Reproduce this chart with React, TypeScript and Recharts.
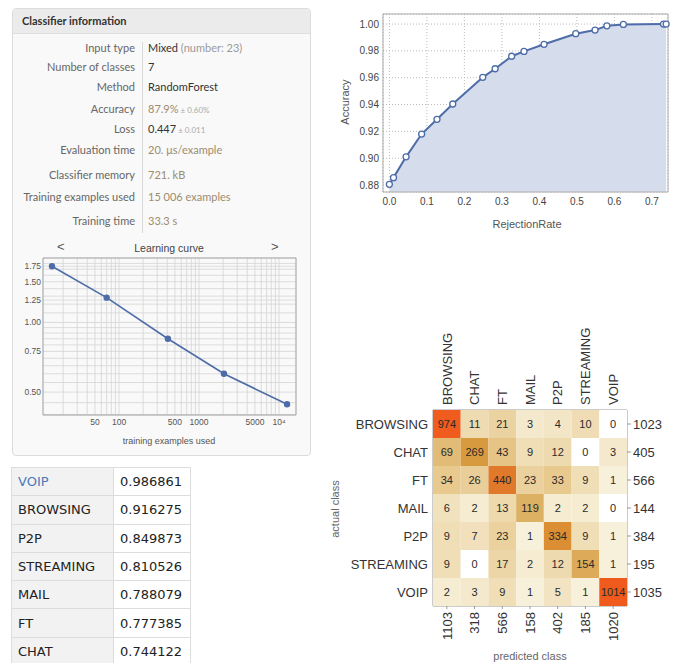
import React from "react"
import {
  AreaChart,
  Area,
  LineChart,
  Line,
  ScatterChart,
  Scatter,
  XAxis,
  YAxis,
  CartesianGrid,
  ReferenceArea
} from "recharts"

// accuracy vs rejection rate
const rejectionRates = [0, 0.011, 0.0445, 0.086, 0.127, 0.169, 0.249, 0.282, 0.326, 0.359, 0.4125, 0.497, 0.5485, 0.58, 0.624, 0.731, 0.738]
const accuracies = [0.8805, 0.8855, 0.901, 0.918, 0.929, 0.9404, 0.9603, 0.9667, 0.976, 0.9796, 0.9849, 0.9928, 0.9955, 0.9987, 0.9997, 1.0, 1.0]
const rejectionTicks = [0, 0.1, 0.2, 0.3, 0.4, 0.5, 0.6, 0.7]
const accuracyTicks = [0.88, 0.9, 0.92, 0.94, 0.96, 0.98, 1.0]

// learning curve
const trainingSizes = [14.5, 70, 408, 2050, 12600]
const lossValues = [1.75, 1.28, 0.85, 0.6, 0.443]
const lossGrid = [0.4, 0.45, 0.5, 0.55, 0.6, 0.65, 0.7, 0.75, 0.8, 0.85, 0.9, 0.95, 1, 1.1, 1.2, 1.25, 1.3, 1.4, 1.5, 1.6, 1.7, 1.75, 1.8, 1.9]
const lossLabels = [0.5, 0.75, 1, 1.25, 1.5, 1.75]
const sizeGrid = [20, 30, 40, 50, 60, 70, 80, 90, 100, 200, 300, 400, 500, 600, 700, 800, 900, 1000, 2000, 3000, 4000, 5000, 6000, 7000, 8000, 9000, 10000]
const sizeLabels: Record<number, string> = { 50: "50", 100: "100", 500: "500", 1000: "1000", 5000: "5000", 10000: "10⁴" }

// confusion matrix
const classes = ["BROWSING", "CHAT", "FT", "MAIL", "P2P", "STREAMING", "VOIP"]
const counts = [
  [974, 11, 21, 3, 4, 10, 0],
  [69, 269, 43, 9, 12, 0, 3],
  [34, 26, 440, 23, 33, 9, 1],
  [6, 2, 13, 119, 2, 2, 0],
  [9, 7, 23, 1, 334, 9, 1],
  [9, 0, 17, 2, 12, 154, 1],
  [2, 3, 9, 1, 5, 1, 1014]
]
const actualTotals = [1023, 405, 566, 144, 384, 195, 1035]
const predictedTotals = [1103, 318, 566, 158, 402, 185, 1020]

// per class accuracy table
const rankedClasses = ["VOIP", "BROWSING", "P2P", "STREAMING", "MAIL", "FT", "CHAT"]
const classAccuracy = [0.986861, 0.916275, 0.849873, 0.810526, 0.788079, 0.777385, 0.744122]

// classifier info rows
const infoLabels = ["Input type", "Number of classes", "Method", "Accuracy", "Loss", "Evaluation time", "Classifier memory", "Training examples used", "Training time"]
const infoValues = ["Mixed", "7", "RandomForest", "87.9%", "0.447", "20. μs/example", "721. kB", "15 006 examples", "33.3 s"]
const infoNotes = [" (number: 23)", "", "", " ± 0.60%", " ± 0.011", "", "", "", ""]
const infoRowY = [47, 66, 86, 108, 128, 149, 174, 196, 220]

const accuracyData = rejectionRates.map((rate, i) => ({ rate, acc: accuracies[i] }))
const lossData = trainingSizes.map((n, i) => ({ n, loss: lossValues[i] }))
const cells = counts.flatMap((row, r) => row.map((v, c) => ({ row: r, col: c, v })))

const chartFont = "'Liberation Sans', Arial, sans-serif"
const panelFont = "Lato, 'Open Sans', sans-serif"
const tan = "#9c8c6f"
const blue = "#4d6ca8"

const heatStops: [number, number[]][] = [
  [0, [255, 255, 255]],
  [0.1, [247, 240, 218]],
  [0.2, [244, 233, 204]],
  [0.35, [239, 220, 179]],
  [0.45, [235, 210, 160]],
  [0.52, [232, 200, 140]],
  [0.61, [226, 187, 120]],
  [0.7, [221, 176, 98]],
  [0.81, [216, 154, 62]],
  [0.85, [220, 138, 47]],
  [0.88, [224, 121, 42]],
  [1, [240, 90, 28]]
]

function heat(v: number) {
  const t = Math.log(v + 1) / Math.log(1015)
  for (let i = 1; i < heatStops.length; i++) {
    const [t1, c1] = heatStops[i]
    const [t0, c0] = heatStops[i - 1]
    if (t <= t1) {
      const f = (t - t0) / (t1 - t0)
      const c = c0.map((x, k) => Math.round(x + (c1[k] - x) * f))
      return `rgb(${c[0]},${c[1]},${c[2]})`
    }
  }
  return "rgb(240,90,28)"
}

function InfoPanel() {
  return (
    <div style={{ position: "absolute", left: 12, top: 8, width: 297, height: 446, border: "1px solid #dcdcdc", borderRadius: 4, background: "#f9f9f9", fontFamily: panelFont }}>
      <div style={{ height: 24, lineHeight: "24px", background: "#ebebeb", borderBottom: "1px solid #dedede", paddingLeft: 9, fontSize: 11, fontWeight: 700, color: "#333", borderRadius: "4px 4px 0 0" }}>
        Classifier information
      </div>
      <div style={{ position: "absolute", left: 129, top: 33, width: 1, height: 191, background: "#d8d8d8" }} />
      {infoLabels.map((label, i) => (
        <div key={label} style={{ position: "absolute", top: infoRowY[i] - 9 - 8, left: 0, width: 290, height: 18, lineHeight: "18px", fontSize: 11 }}>
          <span style={{ position: "absolute", right: 290 - 122, color: "#666", whiteSpace: "nowrap" }}>{label}</span>
          <span style={{ position: "absolute", left: 135, whiteSpace: "nowrap", color: i < 3 || i === 4 ? "#333" : tan }}>
            {infoValues[i]}
            <span style={{ fontSize: i === 0 ? 11 : 8, color: i === 0 ? "#999" : "#aaa" }}>{infoNotes[i]}</span>
          </span>
        </div>
      ))}
      <div style={{ position: "absolute", top: 232, left: 0, width: 297, textAlign: "center", fontFamily: chartFont, fontSize: 10.5, color: "#444" }}>
        <span style={{ position: "absolute", left: 44, top: -2, fontSize: 13, color: "#555" }}>&lt;</span>
        <span style={{ position: "absolute", left: 258, top: -2, fontSize: 13, color: "#555" }}>&gt;</span>
        <span style={{ position: "absolute", left: 0, width: 312, textAlign: "center", top: 1 }}>Learning curve</span>
      </div>
      <div style={{ position: "absolute", top: 427, left: 0, width: 312, textAlign: "center", fontFamily: chartFont, fontSize: 9, color: "#555" }}>
        training examples used
      </div>
    </div>
  )
}

function LearningCurve() {
  return (
    <div style={{ position: "absolute", left: 0, top: 240 }}>
      <LineChart width={310} height={215} data={lossData} margin={{ top: 18, right: 14, bottom: 0, left: 0 }}>
        <CartesianGrid stroke="#d4d4d4" strokeWidth={0.8} />
        <XAxis
          dataKey="n"
          type="number"
          scale="log"
          domain={[11.2, 16300]}
          ticks={sizeGrid}
          interval={0}
          height={40}
          tickSize={0}
          tickMargin={4}
          axisLine={false}
          tickFormatter={(v: number) => sizeLabels[v] || ""}
          tick={{ fontSize: 8.5, fill: "#555", fontFamily: chartFont }}
        />
        <YAxis
          dataKey="loss"
          type="number"
          scale="log"
          domain={[0.398, 1.9]}
          ticks={lossGrid}
          interval={0}
          width={43}
          tickSize={0}
          tickMargin={2}
          axisLine={false}
          tickFormatter={(v: number) => (lossLabels.includes(v) ? v.toFixed(2) : "")}
          tick={{ fontSize: 8.5, fill: "#555", fontFamily: chartFont }}
        />
        <ReferenceArea x1={11.2} x2={16300} y1={0.398} y2={1.9} fill="none" stroke="#aaa" ifOverflow="visible" />
        <Line dataKey="loss" type="linear" stroke={blue} strokeWidth={1.6} dot={{ r: 2.4, fill: blue, stroke: blue }} isAnimationActive={false} />
      </LineChart>
    </div>
  )
}

function RejectionChart() {
  return (
    <div style={{ position: "absolute", left: 330, top: 0 }}>
      <AreaChart width={348} height={240} data={accuracyData} margin={{ top: 14, right: 10, bottom: 0, left: 0 }}>
        <CartesianGrid stroke="#bbb" strokeDasharray="1 2" />
        <XAxis
          dataKey="rate"
          type="number"
          domain={[-0.017, 0.743]}
          ticks={rejectionTicks}
          interval={0}
          height={48}
          tickSize={0}
          tickMargin={6}
          axisLine={false}
          tickFormatter={(v: number) => v.toFixed(1)}
          tick={{ fontSize: 10, fill: "#444", fontFamily: chartFont }}
        />
        <YAxis
          dataKey="acc"
          type="number"
          domain={[0.8748, 1.0075]}
          ticks={accuracyTicks}
          interval={0}
          width={53}
          tickSize={0}
          tickMargin={4}
          axisLine={false}
          tickFormatter={(v: number) => v.toFixed(2)}
          tick={{ fontSize: 10, fill: "#444", fontFamily: chartFont }}
        />
        <Area
          dataKey="acc"
          type="linear"
          stroke={blue}
          strokeWidth={2}
          fill="#d5dcec"
          fillOpacity={1}
          dot={{ r: 3, fill: "#fff", stroke: blue, strokeWidth: 1.3 }}
          isAnimationActive={false}
        />
        <ReferenceArea x1={-0.017} x2={0.743} y1={0.8748} y2={1.0075} fill="none" stroke="#aaa" ifOverflow="visible" />
      </AreaChart>
      <div style={{ position: "absolute", left: 15 - 30, top: 103 - 7, width: 60, textAlign: "center", transform: "rotate(-90deg)", fontFamily: chartFont, fontSize: 11, color: "#555" }}>
        Accuracy
      </div>
      <div style={{ position: "absolute", left: 147, top: 218, width: 100, textAlign: "center", fontFamily: chartFont, fontSize: 11, color: "#555" }}>
        RejectionRate
      </div>
    </div>
  )
}

const cellW = 194 / 7
const cellH = 196 / 7

function CellRect(props: any) {
  const { cx, cy, payload } = props
  return <rect x={cx - cellW / 2} y={cy - cellH / 2} width={cellW} height={cellH} fill={heat(payload.v)} />
}

function CellText(props: any) {
  const { cx, cy, payload } = props
  return (
    <text x={cx} y={cy} textAnchor="middle" dy="0.36em" fontSize={11} fill="#2a2a2a" fontFamily={chartFont}>
      {payload.v}
    </text>
  )
}

function TopTick(props: any) {
  const { x, y, payload } = props
  return (
    <text x={x} y={y} transform={`rotate(-90 ${x} ${y})`} textAnchor="start" dy="0.36em" fontSize={13} fill="#333" fontFamily={chartFont}>
      {classes[payload.value]}
    </text>
  )
}

function BottomTick(props: any) {
  const { x, y, payload } = props
  return (
    <text x={x} y={y} transform={`rotate(-90 ${x} ${y})`} textAnchor="end" dy="0.36em" fontSize={13} fill="#333" fontFamily={chartFont}>
      {predictedTotals[payload.value]}
    </text>
  )
}

function ConfusionMatrix() {
  const idx = [0, 1, 2, 3, 4, 5, 6]
  return (
    <div style={{ position: "absolute", left: 320, top: 300 }}>
      <ScatterChart width={358} height={363} margin={{ top: 0, right: 0, bottom: 0, left: 0 }}>
        <XAxis xAxisId="top" orientation="top" dataKey="col" type="number" domain={[-0.5, 6.5]} ticks={idx} interval={0} height={110} tickSize={0} tickMargin={5} axisLine={{ stroke: "#999" }} tick={<TopTick />} />
        <XAxis xAxisId="bottom" orientation="bottom" dataKey="col" type="number" domain={[-0.5, 6.5]} ticks={idx} interval={0} height={57} tickSize={3} tickMargin={3} axisLine={{ stroke: "#999" }} tickLine={{ stroke: "#999" }} tick={<BottomTick />} />
        <YAxis yAxisId="left" orientation="left" dataKey="row" type="number" reversed domain={[-0.5, 6.5]} ticks={idx} interval={0} width={113} tickSize={0} tickMargin={5} axisLine={{ stroke: "#999" }} tickFormatter={(v: number) => classes[v]} tick={{ fontSize: 13, fill: "#333", fontFamily: chartFont }} />
        <YAxis yAxisId="right" orientation="right" dataKey="row" type="number" reversed domain={[-0.5, 6.5]} ticks={idx} interval={0} width={51} tickSize={4} tickMargin={2} axisLine={{ stroke: "#999" }} tickLine={{ stroke: "#999" }} tickFormatter={(v: number) => String(actualTotals[v])} tick={{ fontSize: 13, fill: "#333", fontFamily: chartFont }} />
        <Scatter xAxisId="top" yAxisId="left" data={cells} shape={<CellRect />} isAnimationActive={false} />
        <Scatter xAxisId="bottom" yAxisId="right" data={cells} shape={<CellText />} isAnimationActive={false} />
      </ScatterChart>
      <div style={{ position: "absolute", left: 15 - 40, top: 210 - 7, width: 80, textAlign: "center", transform: "rotate(-90deg)", fontFamily: chartFont, fontSize: 11, color: "#666" }}>
        actual class
      </div>
      <div style={{ position: "absolute", left: 160, top: 350, width: 100, textAlign: "center", fontFamily: chartFont, fontSize: 11, color: "#666" }}>
        predicted class
      </div>
    </div>
  )
}

function ClassTable() {
  return (
    <table style={{ position: "absolute", left: 11, top: 467, borderCollapse: "collapse", fontFamily: "'DejaVu Sans', Verdana, sans-serif", fontSize: 13, color: "#222" }}>
      <tbody>
        {rankedClasses.map((name, i) => (
          <tr key={name} style={{ height: 28.3 }}>
            <td style={{ width: 95, padding: "0 0 0 6px", border: "1px solid #ddd", background: "#f2f2f2", color: i === 0 ? "#4b79b8" : "#222" }}>{name}</td>
            <td style={{ width: 70, padding: "0 0 0 6px", border: "1px solid #ddd", background: "#fff" }}>{classAccuracy[i].toFixed(6)}</td>
          </tr>
        ))}
      </tbody>
    </table>
  )
}

export default function App() {
  return (
    <div style={{ position: "absolute", left: 0, top: 0, width: 678, height: 663, background: "#fff", overflow: "hidden" }}>
      <InfoPanel />
      <LearningCurve />
      <RejectionChart />
      <ConfusionMatrix />
      <ClassTable />
    </div>
  )
}
